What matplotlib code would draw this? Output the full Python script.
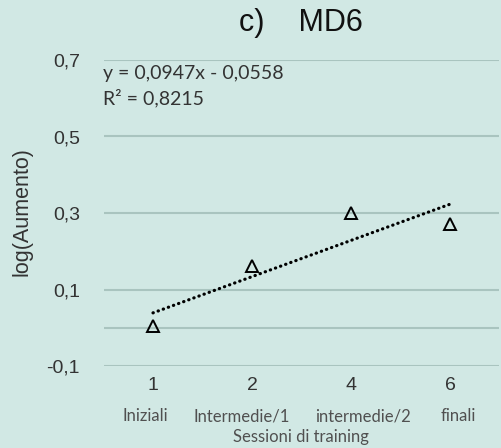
import numpy as np
import matplotlib.pyplot as plt

# Data
sessions = ["1", "2", "4", "6"]
phases = ["Iniziali", "Intermedie/1", "intermedie/2", "finali"]
log_aumento = [0.005, 0.161, 0.300, 0.272]
slope, intercept = 0.0947, -0.0558
r2 = 0.8215
yticks = [-0.1, 0.1, 0.3, 0.5, 0.7]

BG = "#d1e8e4"
GRID = "#a9c4bf"

fig = plt.figure(figsize=(5.02, 4.48), dpi=100, facecolor=BG)
ax = fig.add_axes([103.5 / 502, 82 / 448, 396 / 502, 306 / 448])
ax.set_facecolor(BG)

x = np.arange(1, len(sessions) + 1)

# gridlines + zero axis line
for v in yticks:
    ax.axhline(v, color=GRID, lw=1.5, zorder=1)
ax.axhline(0, color=GRID, lw=1.5, zorder=1)

# trendline
xt = np.array([x[0], x[-1]])
ax.plot(xt, slope * xt + intercept, color="black", lw=2.3,
        linestyle=(0, (0.1, 1.6)), dash_capstyle="round", zorder=2)

ax.plot(x, log_aumento, linestyle="none", marker="^", markersize=8,
        markerfacecolor="none", markeredgecolor="black", markeredgewidth=1.4,
        zorder=3)

ax.set_xlim(0.5, len(sessions) + 0.5)
ax.set_ylim(-0.1, 0.7)
for s in ax.spines.values():
    s.set_visible(False)

ax.set_yticks(yticks)
ax.set_yticklabels([f"{v:.1f}".replace(".", ",") for v in yticks],
                   fontsize=14, color="#333333", family="Liberation Sans")
ax.set_xticks(x)
ax.set_xticklabels(sessions, fontsize=14, color="#333333",
                   family="Liberation Sans")
ax.tick_params(length=0, axis="y", pad=17)
ax.tick_params(length=0, axis="x", pad=8)

fig.text(301 / 502, 1 - 23 / 448, "c)    MD6", ha="center", va="center",
         fontsize=22, family="Liberation Sans", color="#111111")
fig.text(22 / 502, 1 - 212 / 448, "log(Aumento)", rotation=90,
         ha="center", va="center", fontsize=15.5, family="Liberation Sans",
         color="#333333")

eq = f"y = {slope:.4f}x - {abs(intercept):.4f}".replace(".", ",")
fig.text(103 / 502, 1 - 74 / 448, eq, ha="left", va="center",
         fontsize=14, family="Lato", color="#333333")
fig.text(103 / 502, 1 - 98 / 448, f"R² = {r2:.4f}".replace(".", ","),
         ha="left", va="center", fontsize=14, family="Lato", color="#333333")

for px, lab in zip([145, 242, 363, 458], phases):
    fig.text(px / 502, 1 - 416 / 448, lab, ha="center", va="center",
             fontsize=12, family="Lato", color="#505050")
fig.text(301 / 502, 1 - 437 / 448, "Sessioni di training", ha="center",
         va="center", fontsize=12, family="Lato", color="#505050")

fig.savefig("out.png", dpi=100, facecolor=BG)
